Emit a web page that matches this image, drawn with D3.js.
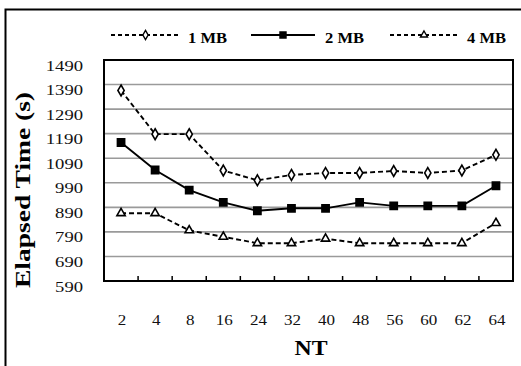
<!DOCTYPE html>
<html><head><meta charset="utf-8">
<script src="https://cdn.jsdelivr.net/npm/d3@7"></script>
<style>body{margin:0;background:#fff}svg{display:block}</style>
</head><body><div id="c"></div>
<script>
const categories = ["2","4","8","16","24","32","40","48","56","60","62","64"];
const series1MB = [1366,1188,1188,1040,1000,1022,1030,1030,1038,1030,1040,1104];
const series2MB = [1154,1042,960,910,876,886,886,910,896,896,896,978];
const series4MB = [866,866,796,770,744,744,762,744,744,744,744,826];
const seriesNames = ["1 MB","2 MB","4 MB"];
const yTicks = [590,690,790,890,990,1090,1190,1290,1390,1490];

const W=521,H=366;
const m={l:104,r:513,t:60,b:281};
const FONT="'Liberation Serif', 'Times New Roman', 'DejaVu Serif', serif";
const svg=d3.select("#c").append("svg").attr("width",W).attr("height",H).attr("font-family",FONT);
const fit=(sel,fn)=>sel.each(function(d){d3.select(this).attr("textLength",fn(d,this)).attr("lengthAdjust","spacingAndGlyphs");});

// outer frame
svg.append("path").attr("d",`M5.5,${H+5}V9.5H${W+5}`).attr("fill","none").attr("stroke","#000").attr("stroke-width",2);

const x=d3.scaleBand().domain(categories).range([m.l,m.r]);
const y=d3.scaleLinear().domain([590,1490]).range([m.b,m.t]);

// gridlines
svg.append("g").selectAll("line").data(yTicks.filter(v=>v>590&&v<1490)).join("line")
 .attr("x1",m.l).attr("x2",m.r).attr("y1",d=>y(d)).attr("y2",d=>y(d))
 .attr("stroke","#9a9a9a").attr("stroke-width",1.6);

// plot border
svg.append("rect").attr("x",m.l).attr("y",m.t).attr("width",m.r-m.l).attr("height",m.b-m.t)
 .attr("fill","none").attr("stroke","#000").attr("stroke-width",2);

// x ticks (inside, at band boundaries)
svg.append("g").selectAll("line").data(categories.slice(1)).join("line")
 .attr("x1",d=>x(d)).attr("x2",d=>x(d)).attr("y1",m.b).attr("y2",m.b-5)
 .attr("stroke","#000").attr("stroke-width",1.5);

// y tick labels
svg.append("g").selectAll("text").data(yTicks).join("text")
 .attr("x",83).attr("y",d=>y(d)+10.5).attr("text-anchor","end")
 .attr("font-size",14.5).attr("fill","#111").text(d=>d).call(fit,d=>String(d).length*9.3);

// x tick labels
svg.append("g").selectAll("text").data(categories).join("text")
 .attr("x",d=>x(d)+x.bandwidth()/2+1).attr("y",324.5).attr("text-anchor","middle")
 .attr("font-size",14.5).attr("fill","#111").text(d=>d).call(fit,d=>d.length*8.5);

// axis titles
svg.append("text").attr("x",311).attr("y",355).attr("text-anchor","middle")
 .attr("font-size",21).attr("font-weight","bold").text("NT").call(fit,()=>33);
svg.append("text").attr("transform","translate(30,190) rotate(-90)").attr("text-anchor","middle")
 .attr("font-size",20).attr("font-weight","bold").text("Elapsed Time (s)").call(fit,()=>196);

const allSeries=[
 {name:seriesNames[0],vals:series1MB,dash:"5,3",sym:d3.symbolDiamond,size:34,fill:"#fff"},
 {name:seriesNames[1],vals:series2MB,dash:null,sym:d3.symbolSquare,size:52,fill:"#000"},
 {name:seriesNames[2],vals:series4MB,dash:"5,3",sym:d3.symbolTriangle,size:30,fill:"#fff"}
];
const line=d3.line().x((d,i)=>x(categories[i])+x.bandwidth()/2).y(d=>y(d));
allSeries.forEach(s=>{
 svg.append("path").attr("d",line(s.vals)).attr("fill","none").attr("stroke","#000")
  .attr("stroke-width",1.9).attr("stroke-dasharray",s.dash);
 svg.append("g").selectAll("path").data(s.vals).join("path")
  .attr("transform",(d,i)=>`translate(${x(categories[i])+x.bandwidth()/2},${y(d)})`)
  .attr("d",d3.symbol().type(s.sym).size(s.size)).attr("fill",s.fill).attr("stroke","#000").attr("stroke-width",1.6);
});

// legend
const lg=[{x1:111,x2:180,tx:188},{x1:251,x2:315,tx:325},{x1:390,x2:458,tx:467}];
allSeries.forEach((s,i)=>{
 const L=lg[i];
 svg.append("line").attr("x1",L.x1).attr("x2",L.x2).attr("y1",35).attr("y2",35)
  .attr("stroke","#000").attr("stroke-width",1.8).attr("stroke-dasharray",s.dash?"4,3":null);
 svg.append("path").attr("transform",`translate(${(L.x1+L.x2)/2},35)`)
  .attr("d",d3.symbol().type(s.sym).size(s.size*0.7)).attr("fill",s.fill).attr("stroke","#000").attr("stroke-width",1.4);
 svg.append("text").attr("x",L.tx).attr("y",42.5).attr("font-size",15).attr("font-weight","bold").text(s.name).call(fit,()=>39);
});
</script></body></html>
